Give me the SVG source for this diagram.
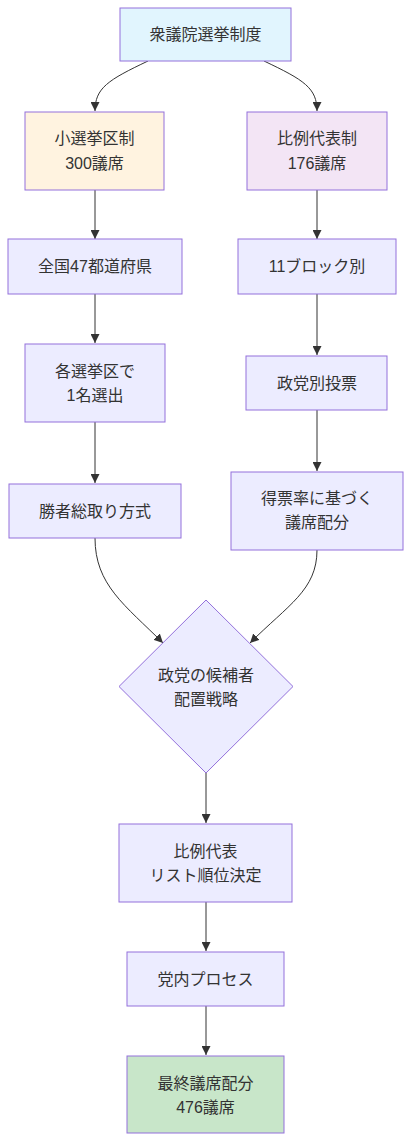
<svg xmlns="http://www.w3.org/2000/svg" width="411" height="1142" viewBox="0 0 411 1142">
<style>
.node rect,.node polygon{fill:#ECECFF;stroke:#9370DB;stroke-width:1}
.node text{font-family:"Liberation Sans","Noto Sans CJK JP",sans-serif;font-size:16px;fill:#333;text-anchor:middle;dominant-baseline:central}
.edges path{fill:none;stroke:#333;stroke-width:1}
</style>
<defs>
<marker id="arrow" viewBox="0 0 10 10" refX="10" refY="5" markerUnits="userSpaceOnUse" markerWidth="9" markerHeight="9" orient="auto">
<path d="M0,0 L10,5 L0,10 z" fill="#333"/>
</marker>
</defs>
<rect width="411" height="1142" fill="#fff"/>
<g class="edges">
<path d="M148,61 C108,80 95,88 95,111" marker-end="url(#arrow)"/>
<path d="M264,61 C304,80 317,88 317,111" marker-end="url(#arrow)"/>
<path d="M95,190 L95,239" marker-end="url(#arrow)"/>
<path d="M317,190 L317,239" marker-end="url(#arrow)"/>
<path d="M95,294 L95,343" marker-end="url(#arrow)"/>
<path d="M317,294 L317,355" marker-end="url(#arrow)"/>
<path d="M95,422 L95,483" marker-end="url(#arrow)"/>
<path d="M317,410 L317,471" marker-end="url(#arrow)"/>
<path d="M95,538 C95,585 125,605 163,643" marker-end="url(#arrow)"/>
<path d="M317,550 C317,590 288,605 250,643" marker-end="url(#arrow)"/>
<path d="M206,773 L206,823" marker-end="url(#arrow)"/>
<path d="M206,902 L206,951" marker-end="url(#arrow)"/>
<path d="M206,1006 L206,1055" marker-end="url(#arrow)"/>
</g>
<g id="top" class="node"><rect x="120" y="8" width="171" height="53" style="fill:#E1F5FE"/><text x="205.5" y="34.5">衆議院選挙制度</text></g>
<g id="smd" class="node"><rect x="25" y="112" width="139" height="78" style="fill:#FFF3E0"/><text x="94.5" y="138">小選挙区制</text><text x="94.5" y="163">300議席</text></g>
<g id="pr" class="node"><rect x="247" y="112" width="140" height="78" style="fill:#F3E5F5"/><text x="317" y="138">比例代表制</text><text x="317" y="163">176議席</text></g>
<g id="pref" class="node"><rect x="8" y="239" width="174" height="55"/><text x="95" y="266.5">全国47都道府県</text></g>
<g id="block" class="node"><rect x="238" y="239" width="158" height="55"/><text x="317" y="266.5">11ブロック別</text></g>
<g id="select" class="node"><rect x="25" y="344" width="140" height="78"/><text x="95" y="371">各選挙区で</text><text x="95" y="395">1名選出</text></g>
<g id="vote" class="node"><rect x="246" y="356" width="141" height="54"/><text x="317" y="383">政党別投票</text></g>
<g id="winner" class="node"><rect x="9" y="484" width="172" height="54"/><text x="95" y="511">勝者総取り方式</text></g>
<g id="alloc" class="node"><rect x="231" y="472" width="172" height="78"/><text x="317" y="498">得票率に基づく</text><text x="317" y="522.5">議席配分</text></g>
<g id="strategy" class="node"><polygon points="206,600 293,686.5 206,773 119,686.5"/><text x="206" y="675">政党の候補者</text><text x="206" y="699">配置戦略</text></g>
<g id="list" class="node"><rect x="119" y="824" width="173" height="78"/><text x="205.5" y="851.5">比例代表</text><text x="205.5" y="875">リスト順位決定</text></g>
<g id="party" class="node"><rect x="127" y="952" width="157" height="54"/><text x="205.5" y="979">党内プロセス</text></g>
<g id="final" class="node"><rect x="127" y="1056" width="157" height="77" style="fill:#C8E6C9"/><text x="205.5" y="1083">最終議席配分</text><text x="205.5" y="1107">476議席</text></g>
</svg>
